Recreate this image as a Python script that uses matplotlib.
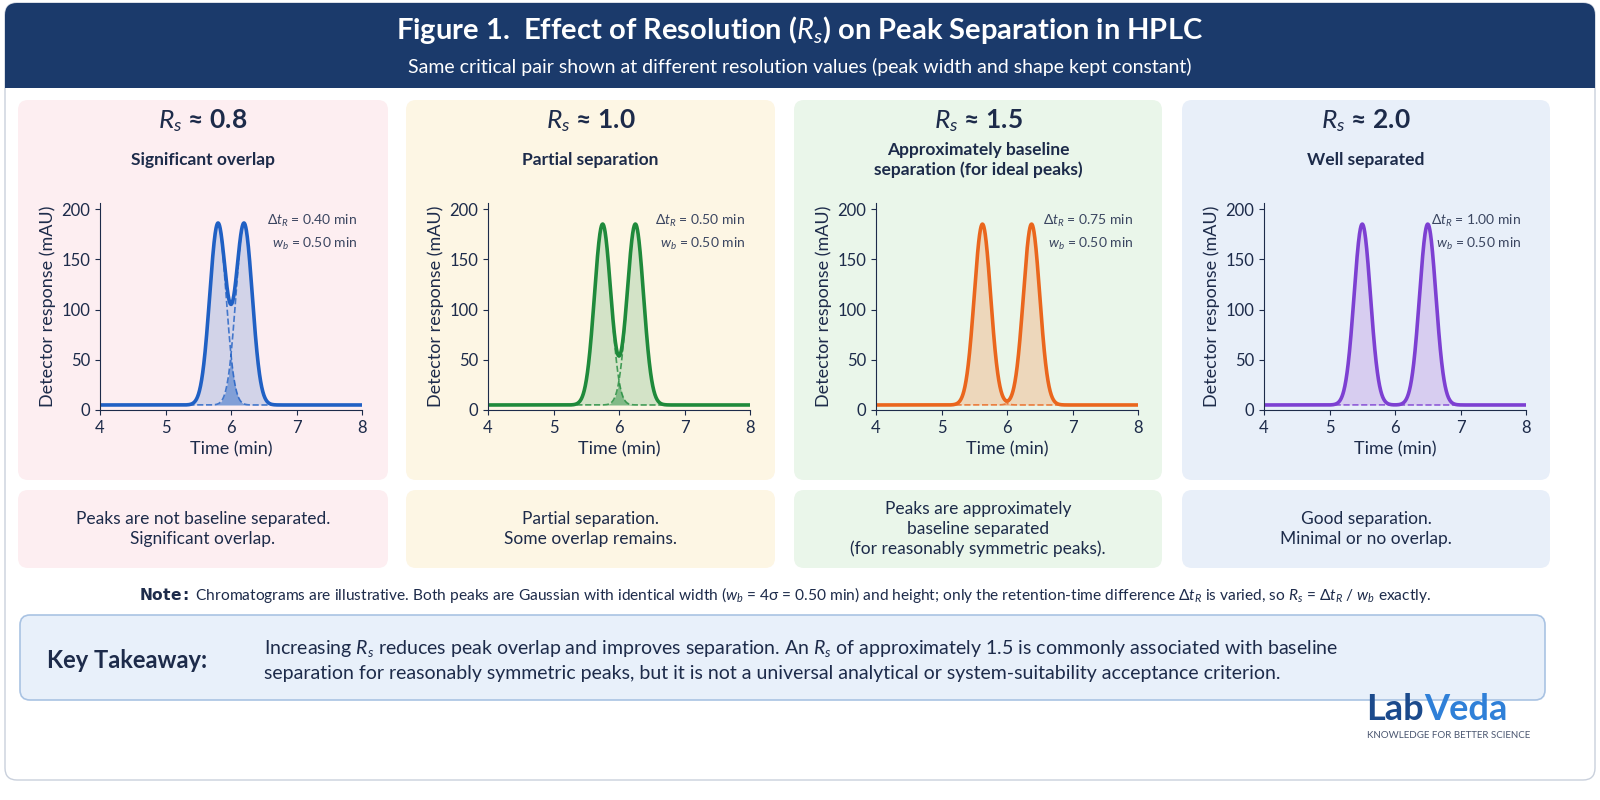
import numpy as np
import matplotlib
matplotlib.use("Agg")
import matplotlib.pyplot as plt
from matplotlib.patches import FancyBboxPatch
from matplotlib.transforms import offset_copy

plt.rcParams['font.family'] = ['Lato', 'DejaVu Sans']
plt.rcParams['mathtext.fontset'] = 'custom'
plt.rcParams['mathtext.it'] = 'Lato:italic'
plt.rcParams['mathtext.rm'] = 'Lato'

rs_values = [0.8, 1.0, 1.5, 2.0]
delta_tr = [0.40, 0.50, 0.75, 1.00]
wb = 0.50
peak_height = 180
baseline = 5
center = 6.0
subtitles = ["Significant overlap", "Partial separation",
             "Approximately baseline\nseparation (for ideal peaks)", "Well separated"]
captions = ["Peaks are not baseline separated.\nSignificant overlap.",
            "Partial separation.\nSome overlap remains.",
            "Peaks are approximately\nbaseline separated\n(for reasonably symmetric peaks).",
            "Good separation.\nMinimal or no overlap."]
panel_bg = ["#fdeef1", "#fdf6e4", "#eaf6ea", "#e8eff9"]
line_col = ["#2060c4", "#1f8a3b", "#ea661d", "#7d40d2"]
fill_col = ["#c8cde6", "#c9dfc0", "#efd0b0", "#d3c5ee"]
xticks = [4, 5, 6, 7, 8]
yticks = [0, 50, 100, 150, 200]

W, H = 1600, 800
fig = plt.figure(figsize=(16, 8), dpi=100)
bg = fig.add_axes([0, 0, 1, 1])
bg.set_xlim(0, W); bg.set_ylim(H, 0); bg.axis('off')

def box(x0, y0, x1, y1, fc, ec='none', r=10, lw=1, z=0):
    bg.add_patch(FancyBboxPatch((x0, y0), x1 - x0, y1 - y0,
                 boxstyle=f"round,pad=0,rounding_size={r}", fc=fc, ec=ec, lw=lw, zorder=z))

navy = "#1b3a6b"
text_dark = "#1d2b4a"
box(5, 3, 1595, 780, 'white', ec='#c9d0dc', r=12)
box(5, 3, 1595, 88, navy, r=12, z=1)
bg.add_patch(plt.Rectangle((5, 50), 1590, 38, fc=navy, ec='none', zorder=1))
bg.text(800, 30, r"Figure 1.  Effect of Resolution ($R_s$) on Peak Separation in HPLC",
        color='white', fontsize=21, fontweight='bold', ha='center', va='center', zorder=2)
bg.text(800, 67, "Same critical pair shown at different resolution values (peak width and shape kept constant)",
        color='white', fontsize=14, ha='center', va='center', zorder=2)

panels_x = [(18, 388), (406, 775), (794, 1162), (1182, 1550)]
t = np.linspace(4, 8, 1200)
sigma = wb / 4
for i, (x0, x1) in enumerate(panels_x):
    box(x0, 100, x1, 480, panel_bg[i], r=10)
    box(x0, 490, x1, 568, panel_bg[i], r=10)
    cx = (x0 + x1) / 2
    bg.text(cx, 121, rf"$R_s$ ≈ {rs_values[i]:.1f}", fontsize=19, fontweight='bold',
            ha='center', va='center', color=text_dark)
    bg.text(cx, 160, subtitles[i], fontsize=12.5, fontweight='bold',
            ha='center', va='center', color=text_dark, linespacing=1.2)
    bg.text(cx, 529, captions[i], fontsize=12.5, ha='center', va='center', color=text_dark,
            linespacing=1.3)

    ax = fig.add_axes([(x0 + 82) / W, 1 - 410 / H, 262 / W, 207 / H])
    ax.set_facecolor('none')
    g1 = peak_height * np.exp(-0.5 * ((t - (center - delta_tr[i] / 2)) / sigma) ** 2)
    g2 = peak_height * np.exp(-0.5 * ((t - (center + delta_tr[i] / 2)) / sigma) ** 2)
    tot = baseline + g1 + g2
    ax.fill_between(t, baseline, tot, color=fill_col[i], alpha=0.8, lw=0)
    ax.fill_between(t, baseline, baseline + np.minimum(g1, g2), color=line_col[i], alpha=0.45, lw=0)
    ax.plot(t, baseline + g1, '--', color=line_col[i], lw=1.2, alpha=0.8)
    ax.plot(t, baseline + g2, '--', color=line_col[i], lw=1.2, alpha=0.8)
    ax.plot(t, tot, color=line_col[i], lw=2.6)
    ax.set_xlim(4, 8); ax.set_ylim(0, 206)
    ax.set_xticks(xticks); ax.set_yticks(yticks)
    for s in ['top', 'right']:
        ax.spines[s].set_visible(False)
    for s in ['left', 'bottom']:
        ax.spines[s].set_color(text_dark)
    ax.tick_params(colors=text_dark, labelsize=12)
    ax.set_xlabel("Time (min)", fontsize=13, color=text_dark, labelpad=4)
    ax.set_ylabel("Detector response (mAU)", fontsize=13, color=text_dark)
    ax.text(0.98, 0.95, rf"$\Delta t_R$ = {delta_tr[i]:.2f} min" + "\n" + rf"$w_b$ = {wb:.2f} min",
            transform=ax.transAxes, ha='right', va='top', fontsize=10, color='#3a4560',
            linespacing=1.5)

bg.text(785, 595, r"$\bf{Note:}$ Chromatograms are illustrative. Both peaks are Gaussian with identical width ($w_b$ = 4σ = 0.50 min) and height; only the retention-time difference Δ$t_R$ is varied, so $R_s$ = Δ$t_R$ / $w_b$ exactly.",
        fontsize=11.2, ha='center', va='center', color=text_dark)

box(20, 615, 1545, 700, '#e8f0fa', ec='#a9c3e3', r=10, lw=1.2)
bg.text(47, 661, "Key Takeaway:", fontsize=17, fontweight='bold', ha='left', va='center', color=text_dark)
bg.text(264, 660, r"Increasing $R_s$ reduces peak overlap and improves separation. An $R_s$ of approximately 1.5 is commonly associated with baseline" "\n"
        "separation for reasonably symmetric peaks, but it is not a universal analytical or system-suitability acceptance criterion.",
        fontsize=14, ha='left', va='center', color=text_dark, linespacing=1.4)

lab = bg.text(1366, 709, "Lab", fontsize=26, fontweight='bold', color='#1b4a8c', ha='left', va='center')
fig.canvas.draw()
ext = lab.get_window_extent()
bg.text(ext.x1 / W * 1600 + 1, 709, "Veda", fontsize=26, fontweight='bold', color='#2f80d8', ha='left', va='center')
bg.text(1367, 736, "KNOWLEDGE FOR BETTER SCIENCE", fontsize=7, color='#4a5670', ha='left', va='center')

fig.savefig("out.png", dpi=100)
